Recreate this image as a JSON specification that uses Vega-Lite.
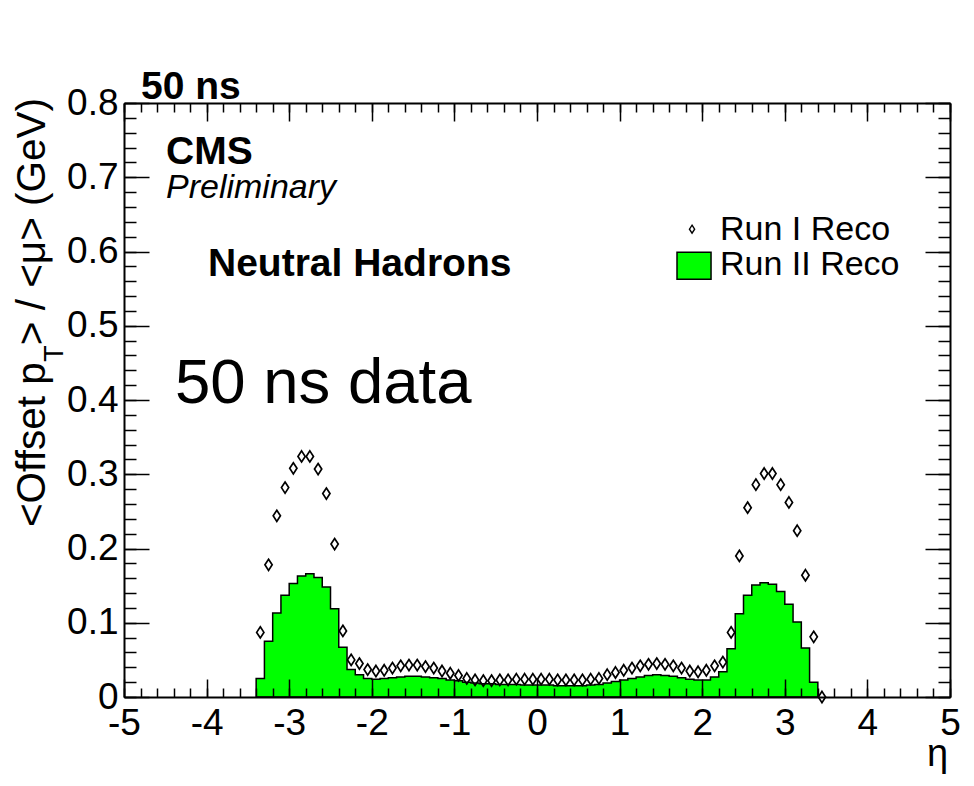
{
  "$schema": "https://vega.github.io/schema/vega-lite/v6.json",
  "width": 826,
  "height": 594,
  "autosize": {"type": "none"},
  "padding": {"left": 124, "top": 103, "right": 24, "bottom": 89},
  "background": "white",
  "config": {"font": "Liberation Sans", "view": {"stroke": null}},
  "datasets": {
    "run2": [
      {"lo": -3.4, "v": 0.025}, {"lo": -3.3, "v": 0.075}, {"lo": -3.2, "v": 0.113}, {"lo": -3.1, "v": 0.137},
      {"lo": -3.0, "v": 0.153}, {"lo": -2.9, "v": 0.163}, {"lo": -2.8, "v": 0.166}, {"lo": -2.7, "v": 0.161},
      {"lo": -2.6, "v": 0.148}, {"lo": -2.5, "v": 0.119}, {"lo": -2.4, "v": 0.067}, {"lo": -2.3, "v": 0.037},
      {"lo": -2.2, "v": 0.030}, {"lo": -2.1, "v": 0.025}, {"lo": -2.0, "v": 0.024}, {"lo": -1.9, "v": 0.025},
      {"lo": -1.8, "v": 0.026}, {"lo": -1.7, "v": 0.027}, {"lo": -1.6, "v": 0.028}, {"lo": -1.5, "v": 0.028},
      {"lo": -1.4, "v": 0.027}, {"lo": -1.3, "v": 0.026}, {"lo": -1.2, "v": 0.025}, {"lo": -1.1, "v": 0.023},
      {"lo": -1.0, "v": 0.022}, {"lo": -0.9, "v": 0.020}, {"lo": -0.8, "v": 0.019}, {"lo": -0.7, "v": 0.018},
      {"lo": -0.6, "v": 0.018}, {"lo": -0.5, "v": 0.017}, {"lo": -0.4, "v": 0.017}, {"lo": -0.3, "v": 0.017},
      {"lo": -0.2, "v": 0.016}, {"lo": -0.1, "v": 0.016}, {"lo": 0.0, "v": 0.016}, {"lo": 0.1, "v": 0.016},
      {"lo": 0.2, "v": 0.015}, {"lo": 0.3, "v": 0.015}, {"lo": 0.4, "v": 0.015}, {"lo": 0.5, "v": 0.015},
      {"lo": 0.6, "v": 0.016}, {"lo": 0.7, "v": 0.017}, {"lo": 0.8, "v": 0.019}, {"lo": 0.9, "v": 0.021},
      {"lo": 1.0, "v": 0.023}, {"lo": 1.1, "v": 0.025}, {"lo": 1.2, "v": 0.027}, {"lo": 1.3, "v": 0.029},
      {"lo": 1.4, "v": 0.030}, {"lo": 1.5, "v": 0.029}, {"lo": 1.6, "v": 0.028}, {"lo": 1.7, "v": 0.026},
      {"lo": 1.8, "v": 0.024}, {"lo": 1.9, "v": 0.023}, {"lo": 2.0, "v": 0.023}, {"lo": 2.1, "v": 0.027},
      {"lo": 2.2, "v": 0.034}, {"lo": 2.3, "v": 0.065}, {"lo": 2.4, "v": 0.112}, {"lo": 2.5, "v": 0.137},
      {"lo": 2.6, "v": 0.151}, {"lo": 2.7, "v": 0.154}, {"lo": 2.8, "v": 0.152}, {"lo": 2.9, "v": 0.142},
      {"lo": 3.0, "v": 0.125}, {"lo": 3.1, "v": 0.101}, {"lo": 3.2, "v": 0.066}, {"lo": 3.3, "v": 0.020},
      {"lo": 3.4, "v": 0.020}
    ],
    "run1": [
      {"eta": -3.35, "v": 0.087}, {"eta": -3.25, "v": 0.178}, {"eta": -3.15, "v": 0.244}, {"eta": -3.05, "v": 0.282},
      {"eta": -2.95, "v": 0.308}, {"eta": -2.85, "v": 0.324}, {"eta": -2.75, "v": 0.324}, {"eta": -2.65, "v": 0.307},
      {"eta": -2.55, "v": 0.274}, {"eta": -2.45, "v": 0.206}, {"eta": -2.35, "v": 0.089}, {"eta": -2.25, "v": 0.050},
      {"eta": -2.15, "v": 0.045}, {"eta": -2.05, "v": 0.037}, {"eta": -1.95, "v": 0.035}, {"eta": -1.85, "v": 0.036},
      {"eta": -1.75, "v": 0.039}, {"eta": -1.65, "v": 0.042}, {"eta": -1.55, "v": 0.043}, {"eta": -1.45, "v": 0.043},
      {"eta": -1.35, "v": 0.041}, {"eta": -1.25, "v": 0.039}, {"eta": -1.15, "v": 0.035}, {"eta": -1.05, "v": 0.032},
      {"eta": -0.95, "v": 0.029}, {"eta": -0.85, "v": 0.025}, {"eta": -0.75, "v": 0.023}, {"eta": -0.65, "v": 0.022},
      {"eta": -0.55, "v": 0.022}, {"eta": -0.45, "v": 0.023}, {"eta": -0.35, "v": 0.023}, {"eta": -0.25, "v": 0.024},
      {"eta": -0.15, "v": 0.024}, {"eta": -0.05, "v": 0.024}, {"eta": 0.05, "v": 0.024}, {"eta": 0.15, "v": 0.024},
      {"eta": 0.25, "v": 0.023}, {"eta": 0.35, "v": 0.023}, {"eta": 0.45, "v": 0.023}, {"eta": 0.55, "v": 0.023},
      {"eta": 0.65, "v": 0.024}, {"eta": 0.75, "v": 0.025}, {"eta": 0.85, "v": 0.030}, {"eta": 0.95, "v": 0.033},
      {"eta": 1.05, "v": 0.036}, {"eta": 1.15, "v": 0.039}, {"eta": 1.25, "v": 0.042}, {"eta": 1.35, "v": 0.044},
      {"eta": 1.45, "v": 0.045}, {"eta": 1.55, "v": 0.044}, {"eta": 1.65, "v": 0.042}, {"eta": 1.75, "v": 0.039},
      {"eta": 1.85, "v": 0.035}, {"eta": 1.95, "v": 0.034}, {"eta": 2.05, "v": 0.036}, {"eta": 2.15, "v": 0.042},
      {"eta": 2.25, "v": 0.047}, {"eta": 2.35, "v": 0.087}, {"eta": 2.45, "v": 0.190}, {"eta": 2.55, "v": 0.255},
      {"eta": 2.65, "v": 0.286}, {"eta": 2.75, "v": 0.301}, {"eta": 2.85, "v": 0.301}, {"eta": 2.95, "v": 0.286},
      {"eta": 3.05, "v": 0.262}, {"eta": 3.15, "v": 0.224}, {"eta": 3.25, "v": 0.164}, {"eta": 3.35, "v": 0.081},
      {"eta": 3.45, "v": 0.0}
    ]
  },
  "resolve": {"axis": {"x": "independent", "y": "independent"}},
  "layer": [
    {
      "data": {"name": "run2"},
      "mark": {"type": "area", "interpolate": "step-after", "fill": "#00ff00", "fillOpacity": 1, "stroke": "black", "strokeWidth": 1.5},
      "encoding": {
        "x": {"field": "lo", "type": "quantitative", "scale": {"domain": [-5, 5], "nice": false, "zero": false},
          "axis": {"orient": "bottom", "values": [-5, -4, -3, -2, -1, 0, 1, 2, 3, 4, 5], "ticks": false, "domain": true, "domainColor": "black", "domainWidth": 2, "labels": true, "labelExpr": "datum.value + ''", "labelFont": "Liberation Sans", "labelFontSize": 37, "labelColor": "black", "labelPadding": 8, "labelFlush": false, "labelOverlap": false, "labelBound": false, "grid": false, "title": null, "zindex": 1}},
        "y": {"field": "v", "type": "quantitative", "scale": {"domain": [0, 0.8], "nice": false, "zero": false},
          "axis": {"orient": "left", "values": [0, 0.1, 0.2, 0.3, 0.4, 0.5, 0.6, 0.7, 0.8], "ticks": false, "domain": true, "domainColor": "black", "domainWidth": 2, "labels": true, "format": ".1~f", "labelFont": "Liberation Sans", "labelFontSize": 37, "labelColor": "black", "labelPadding": 6, "labelFlush": false, "labelOverlap": false, "labelBound": false, "grid": false, "title": null, "zindex": 1}}
      }
    },
    {
      "data": {"name": "run1"},
      "mark": {"type": "point", "shape": "M0,-1L0.65,0L0,1L-0.65,0Z", "size": 125, "filled": false, "stroke": "black", "strokeWidth": 1.7, "opacity": 1},
      "encoding": {
        "x": {"field": "eta", "type": "quantitative", "scale": {"domain": [-5, 5], "nice": false, "zero": false},
          "axis": {"orient": "bottom", "values": [-5, -4, -3, -2, -1, 0, 1, 2, 3, 4, 5], "labels": false, "domain": false, "ticks": true, "tickSize": -18, "tickWidth": 1.5, "tickColor": "black", "grid": false, "title": null, "zindex": 1}},
        "y": {"field": "v", "type": "quantitative", "scale": {"domain": [0, 0.8], "nice": false, "zero": false},
          "axis": {"orient": "left", "values": [0, 0.1, 0.2, 0.3, 0.4, 0.5, 0.6, 0.7, 0.8], "labels": false, "domain": false, "ticks": true, "tickSize": -25, "tickWidth": 1.5, "tickColor": "black", "grid": false, "title": null, "zindex": 1}}
      }
    },
    {
      "data": {"name": "run1"},
      "mark": {"type": "point", "opacity": 0},
      "encoding": {
        "x": {"field": "eta", "type": "quantitative", "scale": {"domain": [-5, 5], "nice": false, "zero": false},
          "axis": {"orient": "bottom", "values": [-5, -4.8, -4.6, -4.4, -4.2, -4, -3.8, -3.6, -3.4, -3.2, -3, -2.8, -2.6, -2.4, -2.2, -2, -1.8, -1.6, -1.4, -1.2, -1, -0.8, -0.6, -0.4, -0.2, 0, 0.2, 0.4, 0.6, 0.8, 1, 1.2, 1.4, 1.6, 1.8, 2, 2.2, 2.4, 2.6, 2.8, 3, 3.2, 3.4, 3.6, 3.8, 4, 4.2, 4.4, 4.6, 4.8, 5], "labels": false, "domain": false, "ticks": true, "tickSize": -9, "tickWidth": 1.5, "tickColor": "black", "grid": false, "title": null, "zindex": 1}},
        "y": {"field": "v", "type": "quantitative", "scale": {"domain": [0, 0.8], "nice": false, "zero": false},
          "axis": {"orient": "left", "values": [0, 0.02, 0.04, 0.06, 0.08, 0.1, 0.12, 0.14, 0.16, 0.18, 0.2, 0.22, 0.24, 0.26, 0.28, 0.3, 0.32, 0.34, 0.36, 0.38, 0.4, 0.42, 0.44, 0.46, 0.48, 0.5, 0.52, 0.54, 0.56, 0.58, 0.6, 0.62, 0.64, 0.66, 0.68, 0.7, 0.72, 0.74, 0.76, 0.78, 0.8], "labels": false, "domain": false, "ticks": true, "tickSize": -12, "tickWidth": 1.5, "tickColor": "black", "grid": false, "title": null, "zindex": 1}}
      }
    },
    {
      "data": {"name": "run1"},
      "mark": {"type": "point", "opacity": 0},
      "encoding": {
        "x": {"field": "eta", "type": "quantitative", "scale": {"domain": [-5, 5], "nice": false, "zero": false},
          "axis": {"orient": "top", "values": [-5, -4, -3, -2, -1, 0, 1, 2, 3, 4, 5], "labels": false, "domain": true, "domainColor": "black", "domainWidth": 2, "ticks": true, "tickSize": -18, "tickWidth": 1.5, "tickColor": "black", "grid": false, "title": null, "zindex": 1}},
        "y": {"field": "v", "type": "quantitative", "scale": {"domain": [0, 0.8], "nice": false, "zero": false},
          "axis": {"orient": "right", "values": [0, 0.1, 0.2, 0.3, 0.4, 0.5, 0.6, 0.7, 0.8], "labels": false, "domain": true, "domainColor": "black", "domainWidth": 2, "ticks": true, "tickSize": -25, "tickWidth": 1.5, "tickColor": "black", "grid": false, "title": null, "zindex": 1}}
      }
    },
    {
      "data": {"name": "run1"},
      "mark": {"type": "point", "opacity": 0},
      "encoding": {
        "x": {"field": "eta", "type": "quantitative", "scale": {"domain": [-5, 5], "nice": false, "zero": false},
          "axis": {"orient": "top", "values": [-5, -4.8, -4.6, -4.4, -4.2, -4, -3.8, -3.6, -3.4, -3.2, -3, -2.8, -2.6, -2.4, -2.2, -2, -1.8, -1.6, -1.4, -1.2, -1, -0.8, -0.6, -0.4, -0.2, 0, 0.2, 0.4, 0.6, 0.8, 1, 1.2, 1.4, 1.6, 1.8, 2, 2.2, 2.4, 2.6, 2.8, 3, 3.2, 3.4, 3.6, 3.8, 4, 4.2, 4.4, 4.6, 4.8, 5], "labels": false, "domain": false, "ticks": true, "tickSize": -9, "tickWidth": 1.5, "tickColor": "black", "grid": false, "title": null, "zindex": 1}},
        "y": {"field": "v", "type": "quantitative", "scale": {"domain": [0, 0.8], "nice": false, "zero": false},
          "axis": {"orient": "right", "values": [0, 0.02, 0.04, 0.06, 0.08, 0.1, 0.12, 0.14, 0.16, 0.18, 0.2, 0.22, 0.24, 0.26, 0.28, 0.3, 0.32, 0.34, 0.36, 0.38, 0.4, 0.42, 0.44, 0.46, 0.48, 0.5, 0.52, 0.54, 0.56, 0.58, 0.6, 0.62, 0.64, 0.66, 0.68, 0.7, 0.72, 0.74, 0.76, 0.78, 0.8], "labels": false, "domain": false, "ticks": true, "tickSize": -12, "tickWidth": 1.5, "tickColor": "black", "grid": false, "title": null, "zindex": 1}}
      }
    },
    {
      "data": {"values": [{}]},
      "mark": {"type": "text", "text": "50 ns", "font": "Liberation Sans", "fontWeight": "bold", "fontSize": 39, "align": "left", "baseline": "alphabetic", "color": "black"},
      "encoding": {"x": {"datum": -4.794, "type": "quantitative", "axis": null}, "y": {"datum": 0.805, "type": "quantitative", "axis": null}}
    },
    {
      "data": {"values": [{}]},
      "mark": {"type": "text", "text": "CMS", "font": "Liberation Sans", "fontWeight": "bold", "fontSize": 39, "align": "left", "baseline": "alphabetic", "color": "black"},
      "encoding": {"x": {"datum": -4.4915, "type": "quantitative", "axis": null}, "y": {"datum": 0.7176, "type": "quantitative", "axis": null}}
    },
    {
      "data": {"values": [{}]},
      "mark": {"type": "text", "text": "Preliminary", "font": "Liberation Sans", "fontStyle": "italic", "fontSize": 34, "align": "left", "baseline": "alphabetic", "color": "black"},
      "encoding": {"x": {"datum": -4.4915, "type": "quantitative", "axis": null}, "y": {"datum": 0.6718, "type": "quantitative", "axis": null}}
    },
    {
      "data": {"values": [{}]},
      "mark": {"type": "text", "text": "Neutral Hadrons", "font": "Liberation Sans", "fontWeight": "bold", "fontSize": 39, "align": "left", "baseline": "alphabetic", "color": "black"},
      "encoding": {"x": {"datum": -3.983, "type": "quantitative", "axis": null}, "y": {"datum": 0.5668, "type": "quantitative", "axis": null}}
    },
    {
      "data": {"values": [{}]},
      "mark": {"type": "text", "text": "50 ns data", "font": "Liberation Sans", "fontSize": 63.5, "align": "left", "baseline": "alphabetic", "color": "black"},
      "encoding": {"x": {"datum": -4.3826, "type": "quantitative", "axis": null}, "y": {"datum": 0.3958, "type": "quantitative", "axis": null}}
    },
    {
      "data": {"values": [{}]},
      "mark": {"type": "point", "shape": "M0,-1L0.65,0L0,1L-0.65,0Z", "size": 64, "filled": false, "stroke": "black", "strokeWidth": 1.4, "opacity": 1},
      "encoding": {"x": {"datum": 1.877, "type": "quantitative", "axis": null}, "y": {"datum": 0.63, "type": "quantitative", "axis": null}}
    },
    {
      "data": {"values": [{}]},
      "mark": {"type": "rect", "fill": "#00ff00", "stroke": "black", "strokeWidth": 1.5},
      "encoding": {"x": {"datum": 1.695, "type": "quantitative", "axis": null}, "x2": {"datum": 2.107}, "y": {"datum": 0.599, "type": "quantitative", "axis": null}, "y2": {"datum": 0.5627}}
    },
    {
      "data": {"values": [{}]},
      "mark": {"type": "text", "text": "Run I Reco", "font": "Liberation Sans", "fontSize": 34, "align": "left", "baseline": "alphabetic", "color": "black"},
      "encoding": {"x": {"datum": 2.2155, "type": "quantitative", "axis": null}, "y": {"datum": 0.6152, "type": "quantitative", "axis": null}}
    },
    {
      "data": {"values": [{}]},
      "mark": {"type": "text", "text": "Run II Reco", "font": "Liberation Sans", "fontSize": 34, "align": "left", "baseline": "alphabetic", "color": "black"},
      "encoding": {"x": {"datum": 2.2155, "type": "quantitative", "axis": null}, "y": {"datum": 0.5681, "type": "quantitative", "axis": null}}
    },
    {
      "data": {"values": [{}]},
      "mark": {"type": "text", "text": "η", "font": "Liberation Sans", "fontSize": 38, "align": "right", "baseline": "alphabetic", "color": "black"},
      "encoding": {"x": {"datum": 4.976, "type": "quantitative", "axis": null}, "y": {"datum": -0.0929, "type": "quantitative", "axis": null}}
    },
    {
      "data": {"values": [{}]},
      "mark": {"type": "text", "text": "<Offset p", "font": "Liberation Sans", "fontSize": 40.5, "angle": 270, "align": "left", "baseline": "alphabetic", "color": "black"},
      "encoding": {"x": {"datum": -5.9564, "type": "quantitative", "axis": null}, "y": {"datum": 0.2289, "type": "quantitative", "axis": null}}
    },
    {
      "data": {"values": [{}]},
      "mark": {"type": "text", "text": "T", "font": "Liberation Sans", "fontSize": 27, "angle": 270, "align": "left", "baseline": "alphabetic", "color": "black"},
      "encoding": {"x": {"datum": -5.738, "type": "quantitative", "axis": null}, "y": {"datum": 0.4516, "type": "quantitative", "axis": null}}
    },
    {
      "data": {"values": [{}]},
      "mark": {"type": "text", "text": "> / <μ> (GeV)", "font": "Liberation Sans", "fontSize": 40.5, "angle": 270, "align": "left", "baseline": "alphabetic", "color": "black"},
      "encoding": {"x": {"datum": -5.9564, "type": "quantitative", "axis": null}, "y": {"datum": 0.4738, "type": "quantitative", "axis": null}}
    }
  ]
}
